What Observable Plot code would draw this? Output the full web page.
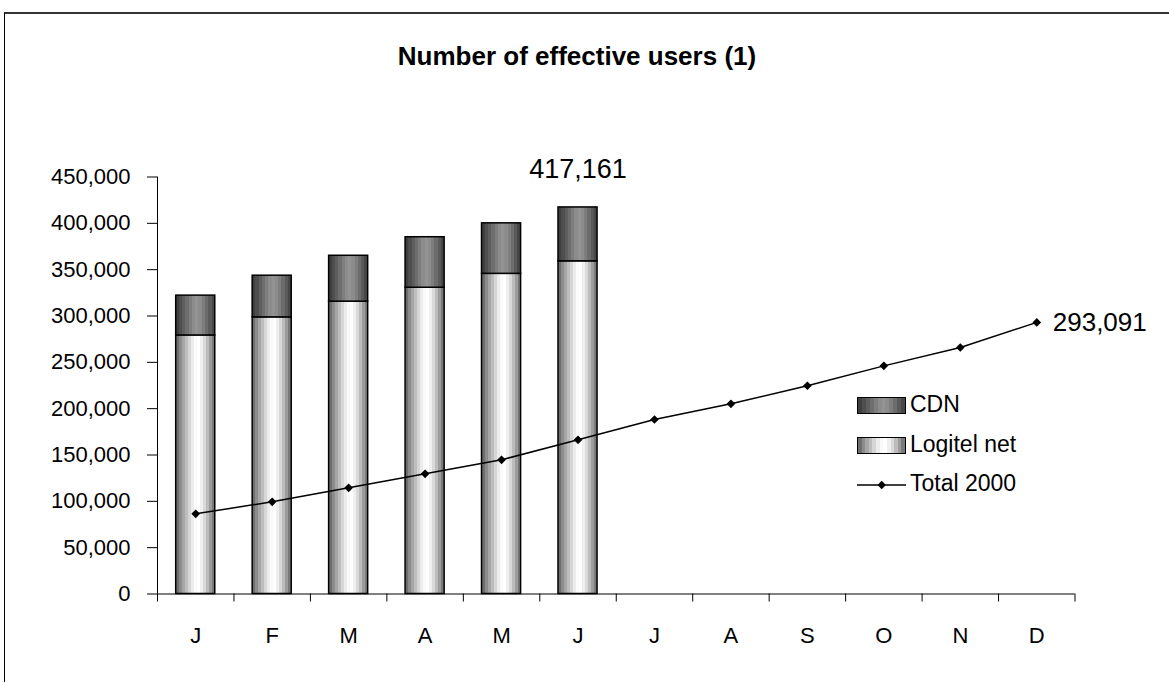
<!DOCTYPE html>
<html><head><meta charset="utf-8">
<script src="https://cdn.jsdelivr.net/npm/d3@7"></script>
<script src="https://cdn.jsdelivr.net/npm/@observablehq/plot@0.6"></script>
<style>
html,body{margin:0;padding:0;background:#fff;}
body{width:1169px;height:682px;overflow:hidden;position:relative;font-family:"Liberation Sans",Arial,sans-serif;color:#000;}
#chart{position:absolute;left:0;top:0;}
#frame{position:absolute;left:4px;top:12px;width:1300px;height:800px;border-top:2px solid #333;border-left:1px solid #000;pointer-events:none;}
#title{position:absolute;left:0;top:41px;width:1154px;text-align:center;font-weight:bold;font-size:26px;line-height:30px;}
.sw{position:absolute;left:857px;width:49px;height:17px;box-sizing:border-box;border:1.5px solid #000;}
.lab{position:absolute;left:910px;font-size:23px;line-height:26px;white-space:nowrap;}
#lineSw{position:absolute;left:857px;top:480px;}
</style>
</head><body>
<div id="chart"></div>
<div id="frame"></div>
<div id="title">Number of effective users (1)</div>
<div class="sw" id="swCdn" style="top:397px"></div>
<div class="lab" style="top:391px">CDN</div>
<div class="sw" id="swLog" style="top:437px"></div>
<div class="lab" style="top:431px">Logitel net</div>
<svg id="lineSw" width="49" height="10"><line x1="0" y1="5" x2="49" y2="5" stroke="#000" stroke-width="1.5"/><path d="M24.7,0.8 L28.9,5 L24.7,9.2 L20.5,5 Z" fill="#000"/></svg>
<div class="lab" style="top:470px">Total 2000</div>
<script>
// ---- data ----
const months = ["J","F","M","A","M","J","J","A","S","O","N","D"];
const logitelNet = [279000, 298500, 315500, 330500, 345500, 359000];
const cdnUsers = [43000, 45000, 49500, 54500, 54500, 58161];
const total2000 = [86500, 99500, 114600, 129700, 144800, 166400, 188300, 205200, 224700, 246200, 266000, 293091];
const yTicks = [0, 50000, 100000, 150000, 200000, 250000, 300000, 350000, 400000, 450000];

// ---- styles ----
const logColors = ["#6e6e6e","#8c8c8c","#a6a6a6","#bdbdbd","#d6d6d6","#ececec","#fafafa","#ffffff","#efefef","#d9d9d9","#bcbcbc","#9c9c9c","#7a7a7a"];
const cdnColors = ["#3f3f3f","#4e4e4e","#5e5e5e","#6e6e6e","#7e7e7e","#8c8c8c","#939393","#8c8c8c","#7e7e7e","#6c6c6c","#5a5a5a","#474747"];

function cssStripes(cols){
  const n = cols.length;
  return "linear-gradient(to right," + cols.map((c,k)=>`${c} ${(k/n*100).toFixed(2)}%, ${c} ${((k+1)/n*100).toFixed(2)}%`).join(",") + ")";
}
document.getElementById("swCdn").style.background = cssStripes(cdnColors);
document.getElementById("swLog").style.background = cssStripes(logColors);

const ns = "http://www.w3.org/2000/svg";
function defsMark(){
  const defs = document.createElementNS(ns, "defs");
  [["gLog", logColors],["gCdn", cdnColors]].forEach(([id, cols])=>{
    const g = document.createElementNS(ns, "linearGradient");
    g.setAttribute("id", id);
    g.setAttribute("x1","0"); g.setAttribute("x2","1"); g.setAttribute("y1","0"); g.setAttribute("y2","0");
    const n = cols.length;
    cols.forEach((c,k)=>{
      [k/n, (k+1)/n].forEach(o=>{
        const s = document.createElementNS(ns, "stop");
        s.setAttribute("offset", o);
        s.setAttribute("stop-color", c);
        g.appendChild(s);
      });
    });
    defs.appendChild(g);
  });
  return defs;
}

const bars = logitelNet.map((v,i)=>({i, log: v, cdn: cdnUsers[i], total: v + cdnUsers[i]}));
const line = total2000.map((v,i)=>({i, v}));
const fmt = d3.format(",");
const diamond = {draw(ctx, size){ const h = Math.sqrt(size)*0.7; ctx.moveTo(0,-h); ctx.lineTo(h,0); ctx.lineTo(0,h); ctx.lineTo(-h,0); ctx.closePath(); }};
const lastBar = bars.slice(-1);
const lastPt = line.slice(-1);

const chart = Plot.plot({
  width: 1169,
  height: 682,
  marginLeft: 157,
  marginRight: 94.5,
  marginTop: 176.5,
  marginBottom: 88.5,
  style: {background: "transparent", fontFamily: '"Liberation Sans", Arial, sans-serif', fontSize: "22px", color: "#000", overflow: "visible"},
  x: {domain: [0, 12], ticks: d3.range(13), tickFormat: () => "", tickSize: 8, label: null},
  y: {domain: [0, 450000], ticks: yTicks, tickFormat: fmt, tickSize: 10, tickPadding: 17, label: null},
  marks: [
    defsMark,
    Plot.ruleX([0], {stroke: "#000", strokeWidth: 1}),
    Plot.ruleY([0], {stroke: "#000", strokeWidth: 1}),
    Plot.rect(bars, {x1: d => d.i, x2: d => d.i + 1, y1: 0, y2: d => d.log, insetLeft: 18.7, insetRight: 18.7, fill: "url(#gLog)", stroke: "#000", strokeWidth: 1.5}),
    Plot.rect(bars, {x1: d => d.i, x2: d => d.i + 1, y1: d => d.log, y2: d => d.total, insetLeft: 18.7, insetRight: 18.7, fill: "url(#gCdn)", stroke: "#000", strokeWidth: 1.5}),
    Plot.line(line, {x: d => d.i + 0.5, y: "v", stroke: "#000", strokeWidth: 1.5}),
    Plot.dot(line, {x: d => d.i + 0.5, y: "v", symbol: diamond, r: 3.5, fill: "#000", stroke: "none"}),
    Plot.text(months, {x: (d,i) => i + 0.5, frameAnchor: "bottom", lineAnchor: "top", dy: 33, text: d => d, fontSize: 22, fill: "#000"}),
    Plot.text(lastBar, {x: d => d.i + 0.5, y: "total", text: d => fmt(d.total), dy: -38, fontSize: 27, fill: "#000"}),
    Plot.text(lastPt, {x: d => d.i + 0.5, y: "v", text: d => fmt(d.v), dx: 16, textAnchor: "start", fontSize: 26, fill: "#000"})
  ]
});
document.getElementById("chart").appendChild(chart);
</script>
</body></html>
